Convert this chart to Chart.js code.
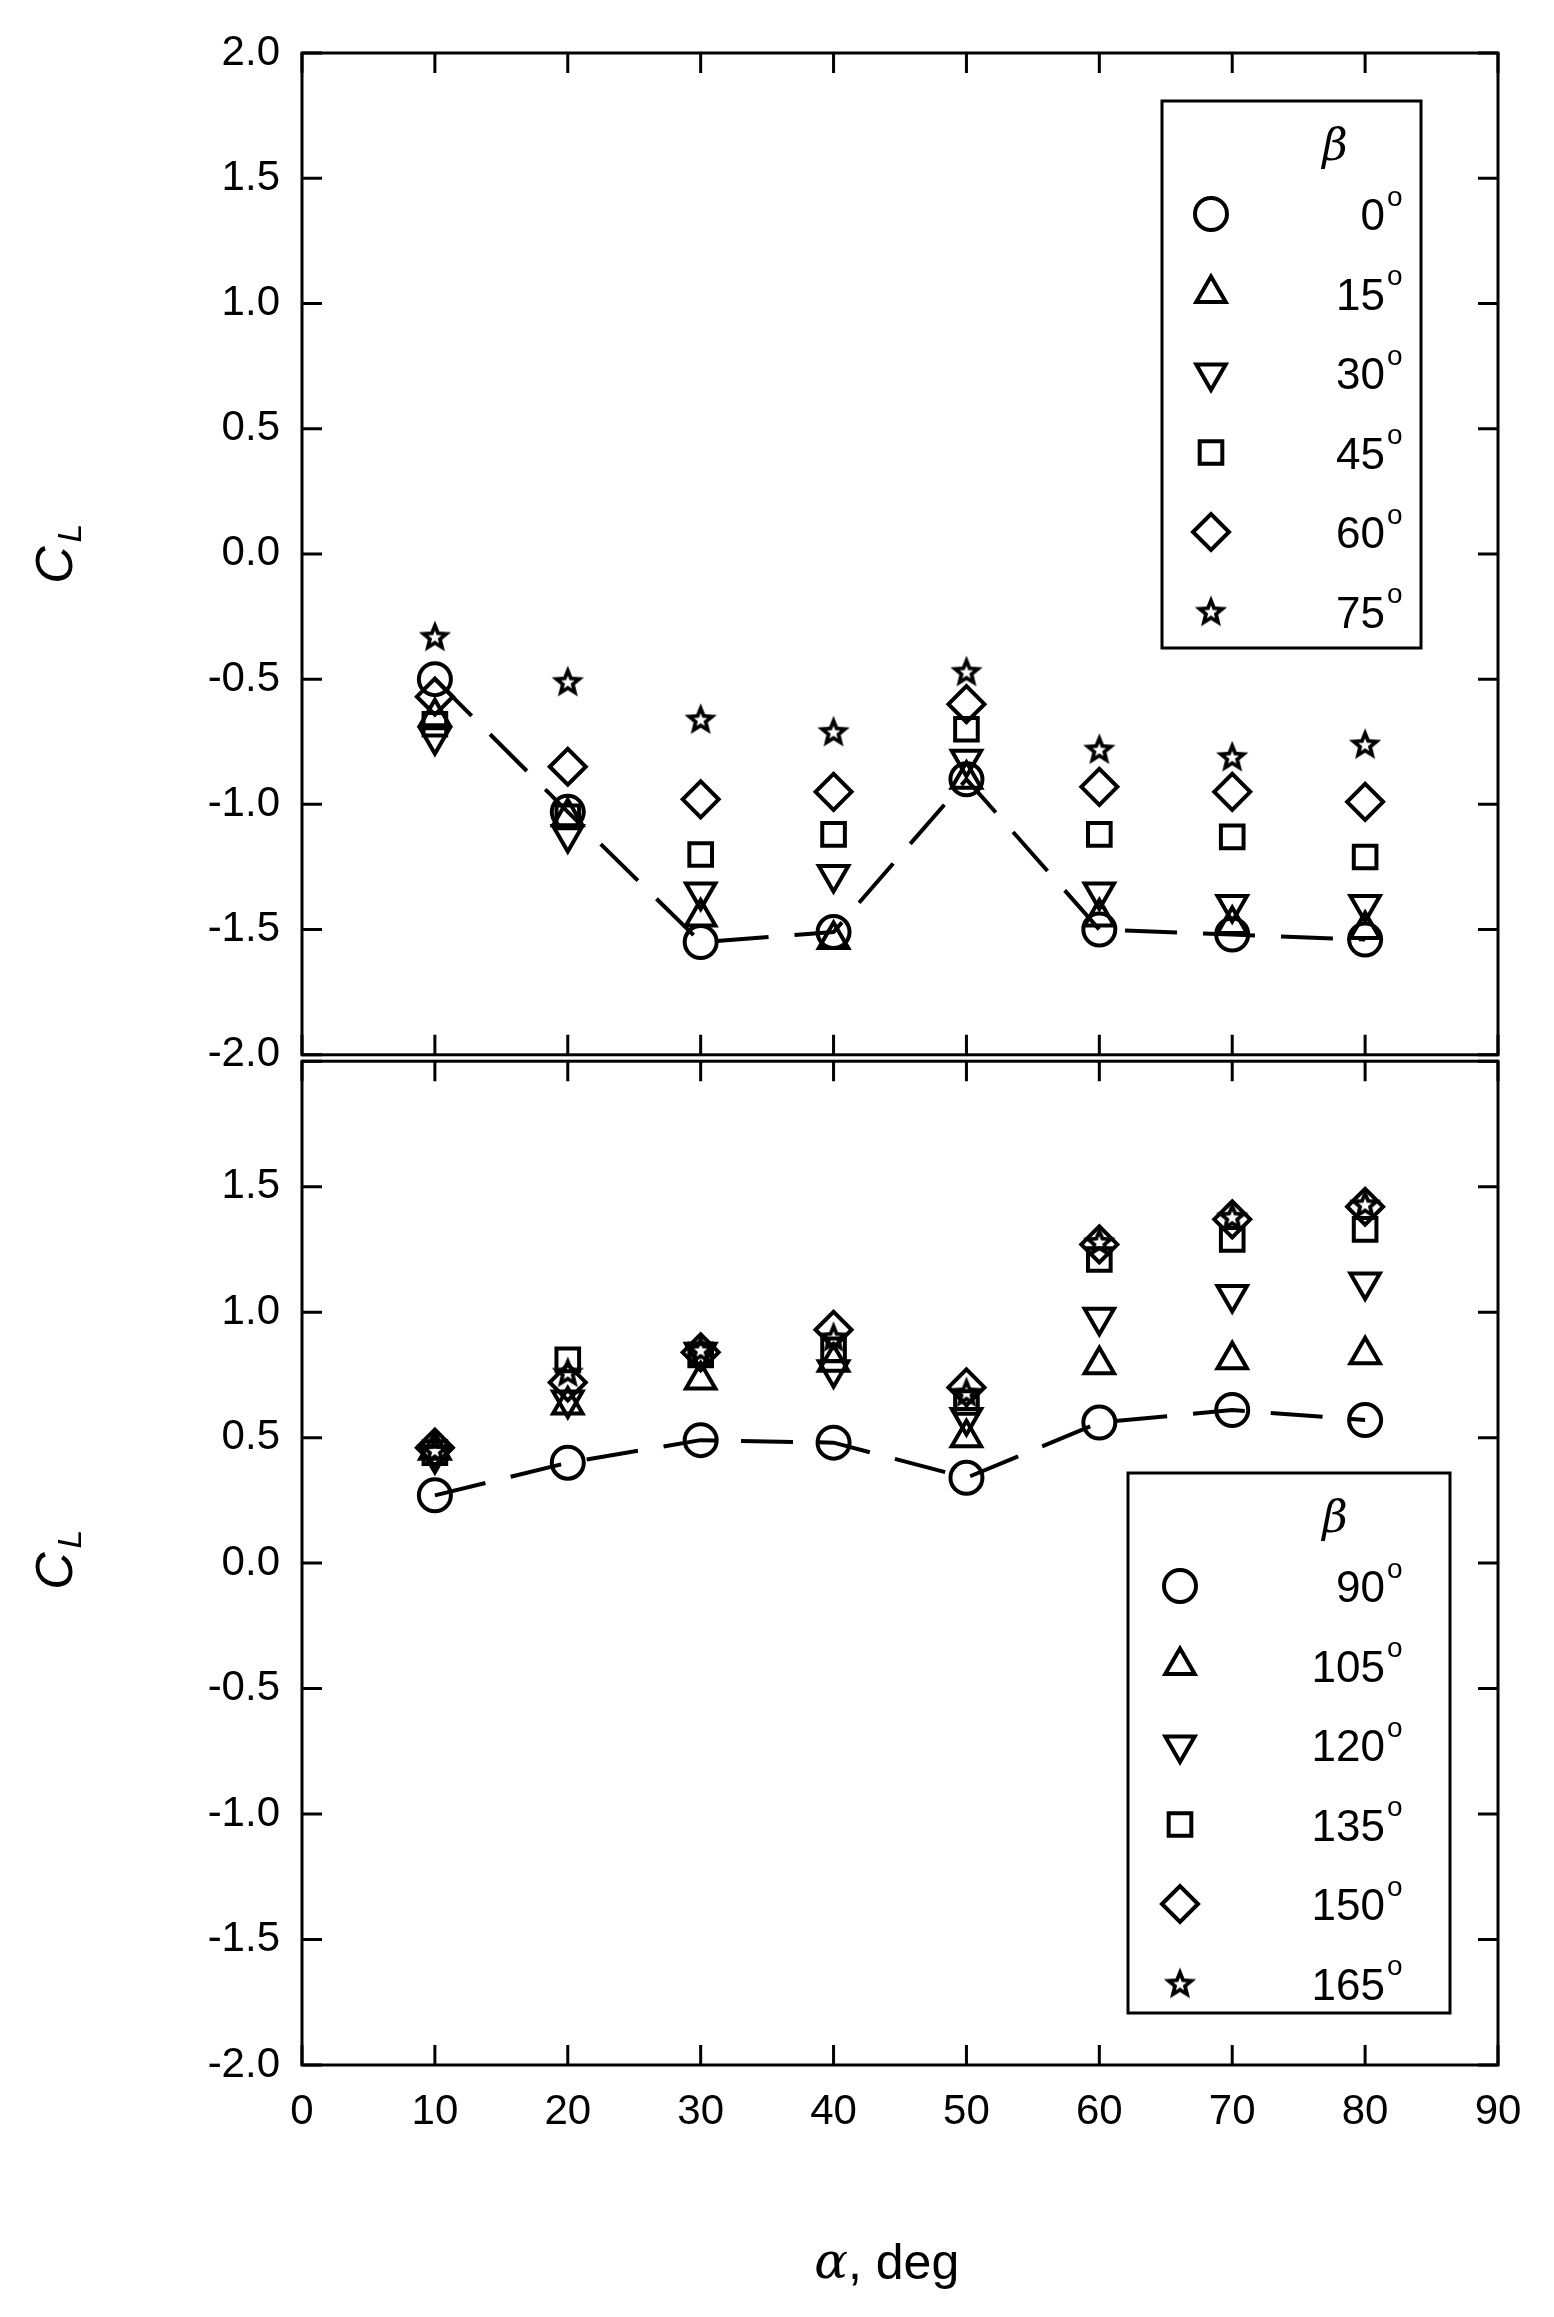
<!DOCTYPE html>
<html><head><meta charset="utf-8">
<script src="https://cdn.jsdelivr.net/npm/chart.js@4"></script>
<style>
body{margin:0;background:#fff}
canvas{display:block}
#wrap1{position:absolute;left:0;top:0;width:1554px;height:1102px}
#wrap2{position:absolute;left:0;top:1014px;width:1554px;height:1303px}
</style></head><body>
<div id="wrap1"><canvas id="top"></canvas></div>
<div id="wrap2"><canvas id="bot"></canvas></div>
<script>
const alpha = [10, 20, 30, 40, 50, 60, 70, 80];
const xTicks = [0, 10, 20, 30, 40, 50, 60, 70, 80, 90];
const yTicks = [-2.0, -1.5, -1.0, -0.5, 0.0, 0.5, 1.0, 1.5, 2.0];

const betaTop = ['0°', '15°', '30°', '45°', '60°', '75°'];
const b0 = [-0.50, -1.03, -1.55, -1.51, -0.90, -1.50, -1.52, -1.54];
const b15 = [-0.65, -1.05, -1.45, -1.54, -0.90, -1.45, -1.48, -1.50];
const b30 = [-0.73, -1.12, -1.35, -1.28, -0.82, -1.35, -1.40, -1.40];
const b45 = [-0.68, -1.05, -1.20, -1.12, -0.70, -1.12, -1.13, -1.21];
const b60 = [-0.57, -0.85, -0.98, -0.95, -0.60, -0.93, -0.95, -0.99];
const b75 = [-0.33, -0.51, -0.66, -0.71, -0.47, -0.78, -0.81, -0.76];

const betaBot = ['90°', '105°', '120°', '135°', '150°', '165°'];
const b90 = [0.27, 0.40, 0.49, 0.48, 0.34, 0.56, 0.61, 0.57];
const b105 = [0.45, 0.63, 0.73, 0.80, 0.50, 0.79, 0.81, 0.83];
const b120 = [0.43, 0.65, 0.84, 0.77, 0.58, 0.98, 1.07, 1.12];
const b135 = [0.44, 0.81, 0.83, 0.85, 0.64, 1.21, 1.29, 1.33];
const b150 = [0.46, 0.72, 0.84, 0.93, 0.70, 1.27, 1.37, 1.42];
const b165 = [0.45, 0.76, 0.85, 0.90, 0.68, 1.28, 1.38, 1.43];

// star marker image: black star with small white centre
const star = document.createElement('canvas');
star.width = 38; star.height = 38;
(function() {
    const c = star.getContext('2d');
    function path(R, r) {
        c.beginPath();
        for (let i = 0; i < 10; i++) {
            const rr = i % 2 ? r : R;
            const a = -Math.PI / 2 + i * Math.PI / 5;
            c.lineTo(19 + rr * Math.cos(a), 20 + rr * Math.sin(a));
        }
        c.closePath();
    }
    path(17, 7.5);
    c.fillStyle = '#000';
    c.fill();
    path(7, 3);
    c.fillStyle = '#fff';
    c.fill();
})();

const styles = [
    {pointStyle: 'circle', pointRadius: 16},
    {pointStyle: 'triangle', pointRadius: 17},
    {pointStyle: 'triangle', pointRadius: 17, pointRotation: 180},
    {pointStyle: 'rect', pointRadius: 16},
    {pointStyle: 'rectRot', pointRadius: 18},
    {pointStyle: star, pointRadius: 17}
];

const FONT = '"Liberation Sans", Arial, sans-serif';

function makeSets(series) {
    return series.map((d, i) => Object.assign({
        data: d.map((v, j) => ({x: alpha[j], y: v})),
        showLine: i === 0,
        borderColor: '#000',
        borderWidth: 4,
        borderDash: [52, 26],
        backgroundColor: 'rgba(0,0,0,0)',
        pointBorderColor: '#000',
        pointBorderWidth: 4,
        pointBackgroundColor: 'rgba(0,0,0,0)'
    }, styles[i]));
}

function frame(opts) {
    return {
        id: 'frame',
        afterDraw(chart) {
            const ctx = chart.ctx, a = chart.chartArea;
            const xs = chart.scales.x, ys = chart.scales.y;
            ctx.save();
            ctx.strokeStyle = '#000';
            ctx.lineWidth = 3;
            ctx.strokeRect(a.left, a.top, a.right - a.left, a.bottom - a.top);
            ctx.beginPath();
            yTicks.forEach(v => {
                const y = ys.getPixelForValue(v);
                ctx.moveTo(a.left, y); ctx.lineTo(a.left + 20, y);
                ctx.moveTo(a.right, y); ctx.lineTo(a.right - 20, y);
            });
            xTicks.forEach(v => {
                const x = xs.getPixelForValue(v);
                ctx.moveTo(x, a.top); ctx.lineTo(x, a.top + 20);
                ctx.moveTo(x, a.bottom); ctx.lineTo(x, a.bottom - 20);
            });
            ctx.stroke();
            // y title C_L
            ctx.fillStyle = '#000';
            ctx.save();
            ctx.translate(58, opts.titleY);
            ctx.rotate(-Math.PI / 2);
            ctx.font = 'italic 52px ' + FONT;
            ctx.textAlign = 'center';
            ctx.textBaseline = 'middle';
            ctx.fillText('C', -10, 0);
            ctx.font = 'italic 34px ' + FONT;
            ctx.fillText('L', 22, 14);
            ctx.restore();
            // legend
            const L = opts.legend;
            ctx.lineWidth = 3;
            ctx.strokeRect(L.x, L.y, L.w, L.h);
            ctx.font = 'italic 44px "DejaVu Serif", serif';
            ctx.textAlign = 'center';
            ctx.textBaseline = 'middle';
            ctx.fillText('β', L.betaX, L.y + 48);
            opts.labels.forEach((t, i) => {
                const y = L.y + 113 + i * 79.5;
                const s = styles[i];
                ctx.fillStyle = 'rgba(0,0,0,0)';
                ctx.lineWidth = 4;
                Chart.helpers.drawPoint(ctx, {
                    pointStyle: s.pointStyle, radius: s.pointRadius,
                    rotation: s.pointRotation || 0, borderWidth: 4
                }, L.symX, y);
                ctx.fillStyle = '#000';
                ctx.font = '44px ' + FONT;
                ctx.textAlign = 'right';
                ctx.fillText(t.replace('°', ''), L.textR, y + 4);
                ctx.font = '28px ' + FONT;
                ctx.textAlign = 'left';
                ctx.fillText('o', L.textR + 2, y - 16);
            });
            if (opts.xTitle) {
                const cx = (a.left + a.right) / 2;
                ctx.font = 'italic 50px "DejaVu Serif", serif';
                ctx.textAlign = 'right';
                ctx.fillText('α', cx - 52, 1251);
                ctx.font = '50px ' + FONT;
                ctx.textAlign = 'left';
                ctx.fillText(', deg', cx - 52, 1251);
            }
            ctx.restore();
        }
    };
}

function build(id, series, opts) {
    return new Chart(document.getElementById(id), {
        type: 'scatter',
        data: {datasets: makeSets(series)},
        options: {
            responsive: true,
            maintainAspectRatio: false,
            animation: false,
            layout: {padding: opts.padding},
            plugins: {legend: {display: false}, tooltip: {enabled: false}},
            scales: {
                x: {
                    min: 0, max: 90,
                    display: opts.showX,
                    grid: {display: false, drawTicks: false},
                    border: {display: false},
                    afterBuildTicks: s => { s.ticks = xTicks.map(v => ({value: v})); },
                    afterFit: s => { s.height = opts.xHeight; },
                    ticks: {color: '#000', padding: 22, font: {family: FONT, size: 42}, maxRotation: 0}
                },
                y: {
                    min: -2, max: 2,
                    grid: {display: false, drawTicks: false},
                    border: {display: false},
                    afterBuildTicks: s => { s.ticks = yTicks.filter(v => opts.yFilter(v)).map(v => ({value: v})); },
                    afterFit: s => { s.width = 302; },
                    ticks: {color: '#000', padding: 22, font: {family: FONT, size: 42},
                        callback: v => v.toFixed(1)}
                }
            }
        },
        plugins: [frame(opts)]
    });
}

build('top', [b0, b15, b30, b45, b60, b75], {
    padding: {top: 53, right: 56, bottom: 0, left: 0},
    showX: false, xHeight: 0, yFilter: v => true, titleY: 555,
    labels: betaTop,
    legend: {x: 1162, y: 101, w: 259, h: 547, betaX: 1335, symX: 1211, textR: 1385}
});
build('bot', [b90, b105, b120, b135, b150, b165], {
    padding: {top: 0, right: 56, bottom: 0, left: 0},
    showX: true, xHeight: 252, yFilter: v => v < 2, titleY: 547,
    labels: betaBot, xTitle: true,
    legend: {x: 1128, y: 459, w: 322, h: 540, betaX: 1335, symX: 1180, textR: 1385}
});
</script>
</body></html>
